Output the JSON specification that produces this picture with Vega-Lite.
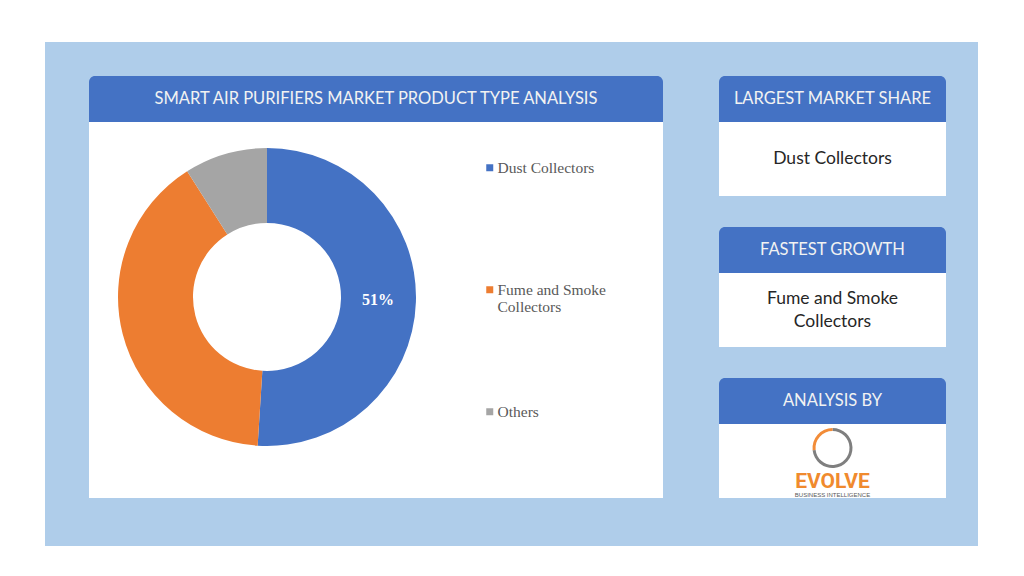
{
  "$schema": "https://vega.github.io/schema/vega-lite/v6.json",
  "background": "#AFCDEA",
  "padding": 0,
  "config": {"view": {"stroke": null}, "concat": {"spacing": 0}},
  "datasets": {
    "shares": [
      {"category": "Dust Collectors", "share": 51},
      {"category": "Fume and Smoke Collectors", "share": 40},
      {"category": "Others", "share": 9}
    ]
  },
  "vconcat": [
    {"width": 1024, "height": 42, "view": {"fill": "white"}, "data": {"values": [{}]}, "mark": {"type": "text", "text": ""}},
    {"hconcat": [
      {"width": 45, "height": 504, "view": {"fill": "white"}, "data": {"values": [{}]}, "mark": {"type": "text", "text": ""}},
      {"vconcat": [
        {"width": 933, "height": 34, "data": {"values": [{}]}, "mark": {"type": "text", "text": ""}},
        {"hconcat": [
          {"width": 44, "height": 422, "data": {"values": [{}]}, "mark": {"type": "text", "text": ""}},
          {"vconcat": [
            {"width": 574, "height": 46, "data": {"values": [{"t": "SMART AIR PURIFIERS MARKET PRODUCT TYPE ANALYSIS"}]},
             "layer": [
               {"mark": {"type": "rect", "color": "#4472C4", "cornerRadiusTopLeft": 6, "cornerRadiusTopRight": 6}, "encoding": {}},
               {"mark": {"type": "text", "color": "#F2F2F2", "fontSize": 16.5, "font": "Lato"}, "encoding": {"text": {"field": "t"}}}
             ]},
            {"hconcat": [
              {"vconcat": [
                {"width": 356, "height": 350, "view": {"fill": "white"}, "data": {"name": "shares"},
                 "encoding": {
                   "theta": {"field": "share", "type": "quantitative", "stack": true},
                   "order": {"field": "share", "sort": "descending"},
                   "color": {"field": "category", "type": "nominal",
                     "scale": {"domain": ["Dust Collectors", "Fume and Smoke Collectors", "Others"], "range": ["#4472C4", "#ED7D31", "#A5A5A5"]},
                     "legend": null}
                 },
                 "layer": [
                   {"mark": {"type": "arc", "outerRadius": 149, "innerRadius": 74}},
                   {"transform": [{"calculate": "datum.category == 'Dust Collectors' ? datum.share + '%' : ''", "as": "label"}],
                    "mark": {"type": "text", "radius": 111, "font": "Liberation Serif", "fontWeight": "bold", "fontSize": 16},
                    "encoding": {"text": {"field": "label"}, "color": {"value": "white"}}}
                 ]},
                {"width": 356, "height": 26, "view": {"fill": "white"}, "data": {"values": [{}]}, "mark": {"type": "text", "text": ""}}
              ]},
              {"width": 218, "height": 376, "view": {"fill": "white"}, "data": {"name": "shares"},
               "mark": {"type": "square", "opacity": 0},
               "encoding": {
                 "color": {"field": "category", "type": "nominal",
                   "scale": {"domain": ["Dust Collectors", "Fume and Smoke Collectors", "Others"], "range": ["#4472C4", "#ED7D31", "#A5A5A5"]},
                   "legend": {"title": null, "orient": "none", "legendX": 37, "legendY": 38, "direction": "vertical",
                     "symbolType": "square", "symbolSize": 49, "symbolOpacity": 1, "symbolStrokeWidth": 0,
                     "labelFont": "Liberation Serif", "labelFontSize": 15.5, "labelColor": "#595959", "labelOffset": 0,
                     "labelLimit": 300, "rowPadding": 88,
                     "labelExpr": "datum.label == 'Fume and Smoke Collectors' ? ['Fume and Smoke', 'Collectors'] : [datum.label, '']"}}
               }}
            ], "resolve": {"scale": {"color": "independent"}, "legend": {"color": "independent"}}}
          ]},
          {"width": 56, "height": 422, "data": {"values": [{}]}, "mark": {"type": "text", "text": ""}},
          {"spacing": 31, "vconcat": [
            {"vconcat": [
              {"width": 227, "height": 46, "data": {"values": [{"t": "LARGEST MARKET SHARE"}]},
               "layer": [
                 {"mark": {"type": "rect", "color": "#4472C4", "cornerRadiusTopLeft": 6, "cornerRadiusTopRight": 6}, "encoding": {}},
                 {"mark": {"type": "text", "color": "#F2F2F2", "fontSize": 16.5, "font": "Lato"}, "encoding": {"text": {"field": "t"}}}
               ]},
              {"width": 227, "height": 74, "view": {"fill": "white"}, "data": {"values": [{"t": "Dust Collectors"}]},
               "mark": {"type": "text", "font": "Lato", "fontSize": 17.5, "color": "#262626"}, "encoding": {"text": {"field": "t"}}}
            ]},
            {"vconcat": [
              {"width": 227, "height": 46, "data": {"values": [{"t": "FASTEST GROWTH"}]},
               "layer": [
                 {"mark": {"type": "rect", "color": "#4472C4", "cornerRadiusTopLeft": 6, "cornerRadiusTopRight": 6}, "encoding": {}},
                 {"mark": {"type": "text", "color": "#F2F2F2", "fontSize": 16.5, "font": "Lato"}, "encoding": {"text": {"field": "t"}}}
               ]},
              {"width": 227, "height": 74, "view": {"fill": "white"}, "data": {"values": [{"t": "Fume and Smoke Collectors"}]},
               "transform": [{"calculate": "split(replace(datum.t, 'Smoke ', 'Smoke|'), '|')", "as": "lines"}],
               "mark": {"type": "text", "font": "Lato", "fontSize": 17.5, "color": "#262626", "lineHeight": 23, "dy": -11}, "encoding": {"text": {"field": "lines"}}}
            ]},
            {"vconcat": [
              {"width": 227, "height": 46, "data": {"values": [{"t": "ANALYSIS BY"}]},
               "layer": [
                 {"mark": {"type": "rect", "color": "#4472C4", "cornerRadiusTopLeft": 6, "cornerRadiusTopRight": 6}, "encoding": {}},
                 {"mark": {"type": "text", "color": "#F2F2F2", "fontSize": 16.5, "font": "Lato"}, "encoding": {"text": {"field": "t"}}}
               ]},
              {"width": 227, "height": 74, "view": {"fill": "white"},
               "layer": [
                 {"data": {"values": [{}]}, "mark": {"type": "arc", "outerRadius": 20, "innerRadius": 17, "theta": 0, "theta2": 4.6, "color": "#7F7F7F", "yOffset": -13}, "encoding": {}},
                 {"data": {"values": [{}]}, "mark": {"type": "arc", "outerRadius": 20, "innerRadius": 17, "theta": 4.6, "theta2": 6.2832, "color": "#F28C38", "yOffset": -13}, "encoding": {}},
                 {"data": {"values": [{"t": "EVOLVE"}]}, "mark": {"type": "text", "font": "Roboto", "fontWeight": "bold", "fontSize": 21, "color": "#F08A2E", "dy": 21}, "encoding": {"text": {"field": "t"}}},
                 {"data": {"values": [{"t": "BUSINESS INTELLIGENCE"}]}, "mark": {"type": "text", "font": "Liberation Sans", "fontSize": 6, "color": "#595959", "dy": 34}, "encoding": {"text": {"field": "t"}}}
               ]}
            ]}
          ]},
          {"width": 32, "height": 422, "data": {"values": [{}]}, "mark": {"type": "text", "text": ""}}
        ]},
        {"width": 933, "height": 48, "data": {"values": [{}]}, "mark": {"type": "text", "text": ""}}
      ]},
      {"width": 46, "height": 504, "view": {"fill": "white"}, "data": {"values": [{}]}, "mark": {"type": "text", "text": ""}}
    ]},
    {"width": 1024, "height": 30, "view": {"fill": "white"}, "data": {"values": [{}]}, "mark": {"type": "text", "text": ""}}
  ]
}
